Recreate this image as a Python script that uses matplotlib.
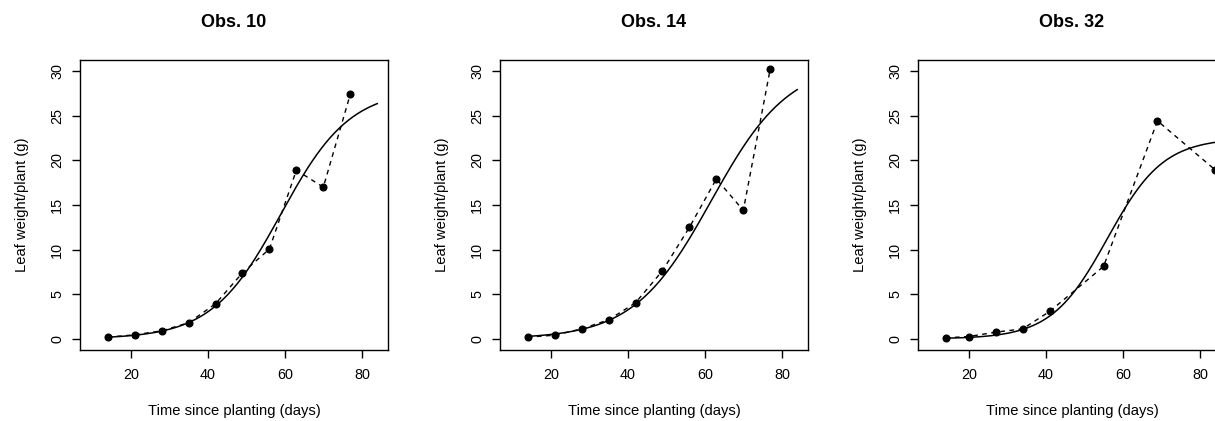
import numpy as np
import matplotlib.pyplot as plt

plt.rcParams["font.family"] = ["Liberation Sans", "DejaVu Sans"]

TITLES = ["Obs. 10", "Obs. 14", "Obs. 32"]

# observed leaf weight per plant (g) against days since planting
TIMES_10 = [14, 21, 28, 35, 42, 49, 56, 63, 70, 77]
WEIGHT_10 = [0.19, 0.45, 0.90, 1.80, 3.93, 7.40, 10.06, 18.9, 17.0, 27.4]

TIMES_14 = [14, 21, 28, 35, 42, 49, 56, 63, 70, 77]
WEIGHT_14 = [0.19, 0.41, 1.12, 2.13, 4.04, 7.63, 12.5, 17.92, 14.4, 30.27]

TIMES_32 = [14, 20, 27, 34, 41, 55, 69, 84]
WEIGHT_32 = [0.11, 0.26, 0.75, 1.12, 3.07, 8.12, 24.43, 18.93]

# fitted logistic parameters (Asym, xmid, scal) for each plot
ASYM = [28.0, 31.0, 22.5]
XMID = [59.0, 61.7, 56.0]
SCAL = [9.0, 10.1, 7.3]

CURVE_RANGE = (14, 84)

obs = [(TIMES_10, WEIGHT_10), (TIMES_14, WEIGHT_14), (TIMES_32, WEIGHT_32)]

fig = plt.figure(figsize=(12.15, 4.21), dpi=100)
lefts = [80 / 1215, 500 / 1215, 918 / 1215]
width = 308 / 1215
bottom = 1 - 350 / 421
height = 290 / 421

for i, (t, w) in enumerate(obs):
    ax = fig.add_axes([lefts[i], bottom, width, height])

    ax.plot(t, w, color="black", linestyle=(0, (3.4, 3.2)), linewidth=1.0)
    ax.plot(t, w, "o", color="black", markersize=4.8)

    grid = np.linspace(CURVE_RANGE[0], CURVE_RANGE[1], 300)
    fit = ASYM[i] / (1 + np.exp((XMID[i] - grid) / SCAL[i]))
    ax.plot(grid, fit, color="black", linewidth=1.1)

    ax.set_xlim(6.8, 86.8)
    ax.set_ylim(-1.25, 31.25)
    ax.set_xticks([20, 40, 60, 80])
    ax.set_yticks([0, 5, 10, 15, 20, 25, 30])
    ax.tick_params(direction="out", length=5.8, width=1.0, labelsize=10.4)
    ax.tick_params(axis="x", pad=7)
    ax.tick_params(axis="y", pad=5.5)
    for lab in ax.get_yticklabels():
        lab.set_rotation(90)
        lab.set_va("center")
    for sp in ax.spines.values():
        sp.set_linewidth(1.0)

    ax.set_title(TITLES[i], fontsize=13, fontweight="bold", pad=24)
    ax.set_xlabel("Time since planting (days)", fontsize=10.6, va="center")
    ax.xaxis.set_label_coords(0.5, -0.21)
    ax.set_ylabel("Leaf weight/plant (g)", fontsize=10.6, va="center")
    ax.yaxis.set_label_coords(-0.188, 0.5)

fig.savefig("out.png", dpi=100)
